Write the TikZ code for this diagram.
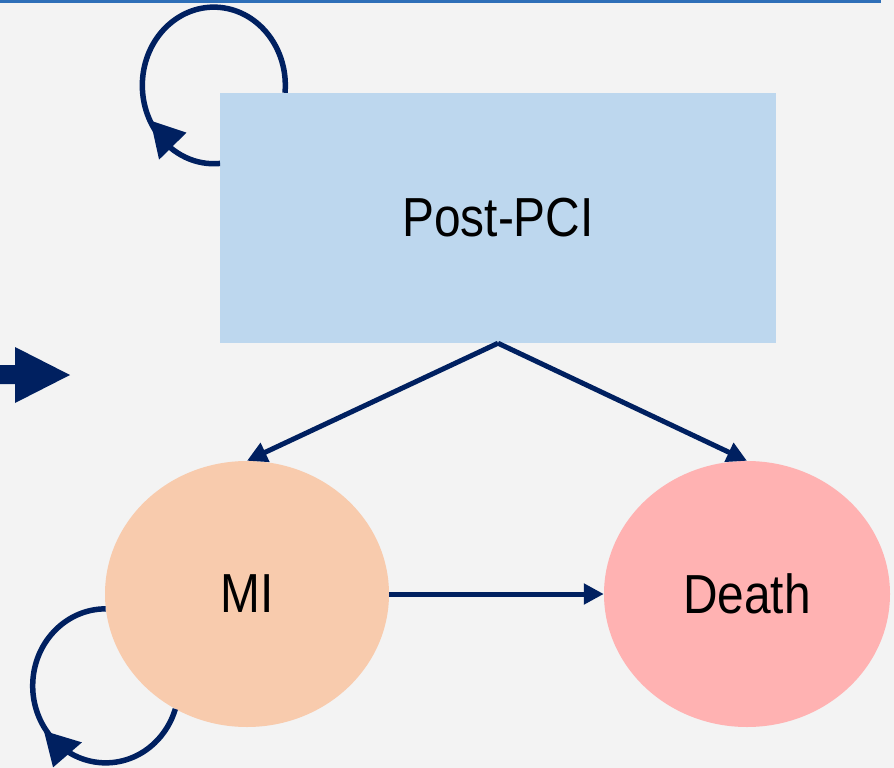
\documentclass[tikz,border=0pt]{standalone}
\usepackage{fontspec}
\newfontfamily\labelfont{Liberation Sans}[FakeStretch=0.87]
\usetikzlibrary{shapes.geometric,arrows.meta,calc}
\definecolor{bg}{HTML}{F3F3F3}
\definecolor{navy}{HTML}{002060}
\definecolor{boxblue}{HTML}{BDD7EE}
\definecolor{peach}{HTML}{F8CBAD}
\definecolor{rose}{HTML}{FFB2B2}
\definecolor{rulecol}{HTML}{2E6FB8}

\begin{document}
\begin{tikzpicture}[x=1pt,y=1pt,
  state/.style={draw=none, inner sep=0pt, text=black,
    font=\labelfont\fontsize{55}{60}\selectfont},
  flow/.style={draw=navy, line width=5pt,
    -{Triangle[length=20pt,width=20pt]}},
  loopline/.style={draw=navy, line width=5.5pt},
  loophead/.style={fill=navy}]

% canvas and top rule
\fill[bg] (0,0) rectangle (894,-768);
\useasboundingbox (0,0) rectangle (894,-768);
\draw[rulecol, line width=3pt] (0,-1.5) -- (881,-1.5);

% states
\node[state, fill=boxblue, minimum width=556pt, minimum height=250pt]
  (post) at (498,-218) {Post-PCI};
\node[state, ellipse, fill=peach, minimum width=284pt, minimum height=266pt]
  (mi) at (247,-594) {MI};
\node[state, ellipse, fill=rose, minimum width=286pt, minimum height=266pt]
  (death) at (747,-594) {Death};

% entry arrow on the left
\fill[navy] (0,-365) -- (15,-365) -- (15,-347) -- (70,-375)
  -- (15,-403) -- (15,-384) -- (0,-384) -- cycle;

% transitions
\draw[flow] (post.south) -- (mi.north);
\draw[flow] (post.south) -- (death.north);
\draw[flow] (mi.east) -- (death.west);

% self-loop on Post-PCI
\draw[loopline] ($(post.north west)+(65.2,0)$)
  arc[start angle=-5.4, end angle=218, x radius=71.5, y radius=78.3]
  coordinate (posthead)
  arc[start angle=218, end angle=275, x radius=71.5, y radius=78.3];
\fill[loophead] ($(posthead)+(1.6,-26)$) -- ($(posthead)+(-7,13)$)
  -- ($(posthead)+(29,1)$) -- cycle;

% self-loop on MI
\draw[loopline] (mi.186)
  arc[start angle=90, end angle=222, x radius=73, y radius=77]
  coordinate (mihead)
  arc[start angle=222, end angle=342.5, x radius=73, y radius=77];
\fill[loophead] ($(mihead)+(1.6,-30)$) -- ($(mihead)+(-7.5,6.5)$)
  -- ($(mihead)+(30.5,-5)$) -- cycle;
\end{tikzpicture}
\end{document}
